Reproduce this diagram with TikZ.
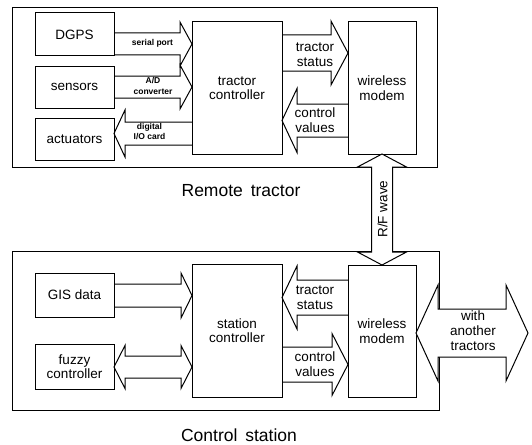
\documentclass[tikz,border=0pt]{standalone}
\usepackage{fontspec}
\setmainfont{Liberation Sans}
\usetikzlibrary{calc}

\tikzset{
  box/.style={draw, line width=1pt, inner sep=0pt, outer sep=0pt, minimum width=79pt,
    align=center, font=\fontsize{13.5}{14.5}\selectfont},
  frame/.style={draw, line width=1pt},
  fat/.style={draw, line width=1pt, line join=miter},
  lbl/.style={align=center, inner sep=0pt, font=\fontsize{13.5}{15}\selectfont},
  tinylbl/.style={align=center, inner sep=0pt, font=\fontsize{8.5}{10.5}\selectfont\bfseries},
  title/.style={inner sep=0pt, font=\fontsize{17.5}{20}\selectfont}
}

% block arrow: #1 from, #2 to, #3 half shaft, #4 half head, #5 head length
\newcommand\fatarrow[5]{%
  \coordinate (s) at (#1);
  \coordinate (t) at (#2);
  \coordinate (h) at ($(t)!#5!(s)$);
  \draw[fat] ($(s)!#3!90:(t)$) -- ($(h)!#3!90:(t)$) -- ($(h)!#4!90:(t)$) -- (t)
    -- ($(h)!#4!-90:(t)$) -- ($(h)!#3!-90:(t)$) -- ($(s)!#3!-90:(t)$);}
% same, with a head at both ends
\newcommand\fatdarrow[5]{%
  \coordinate (s) at (#1);
  \coordinate (t) at (#2);
  \coordinate (h1) at ($(s)!#5!(t)$);
  \coordinate (h2) at ($(t)!#5!(s)$);
  \draw[fat] (s) -- ($(h1)!#4!90:(t)$) -- ($(h1)!#3!90:(t)$) -- ($(h2)!#3!90:(t)$)
    -- ($(h2)!#4!90:(t)$) -- (t) -- ($(h2)!#4!-90:(t)$) -- ($(h2)!#3!-90:(t)$)
    -- ($(h1)!#3!-90:(t)$) -- ($(h1)!#4!-90:(t)$) -- cycle;}

\begin{document}
\begin{tikzpicture}[x=1pt,y=-1pt]
\useasboundingbox (0,0) rectangle (532,444);

% outer frames
\draw[frame] (12,8) rectangle (437,167);
\draw[frame] (12,251) rectangle (439,410);

% remote tractor
\node[box, minimum height=43pt] (dgps) at (74.5,34.5) {DGPS};
\node[box, minimum height=42pt] (sens) at (74.5,87) {sensors};
\node[box, minimum height=42pt] (act) at (74.5,139) {actuators};
\node[box, minimum width=90pt, minimum height=132pt] (tc) at (237,88) {tractor\\controller};
\node[box, minimum width=68pt, minimum height=132pt] (wm1) at (382,88) {wireless\\modem};

% control station
\node[box, minimum height=44pt] (gis) at (74.5,295) {GIS data};
\node[box, minimum height=45pt] (fuzzy) at (74.5,366.5) {fuzzy\\controller};
\node[box, minimum width=90pt, minimum height=133pt] (sc) at (237,330.5) {station\\controller};
\node[box, minimum width=68pt, minimum height=132pt] (wm2) at (382,331) {wireless\\modem};
\coordinate (other) at (528,333);

% block arrows
\fatarrow{dgps.east |- 0,44}{tc.west |- 0,44}{11pt}{22pt}{12pt}
\fatarrow{sens.east |- 0,87}{tc.west |- 0,87}{11pt}{22pt}{12pt}
\fatarrow{tc.west |- 0,133.5}{act.east |- 0,133.5}{11.5pt}{23.5pt}{11pt}
\fatarrow{tc.east |- 0,53}{wm1.west |- 0,53}{18pt}{32pt}{17pt}
\fatarrow{wm1.west |- 0,120.5}{tc.east |- 0,120.5}{16.5pt}{32pt}{15pt}
\fatarrow{gis.east |- 0,295.5}{sc.west |- 0,295.5}{11.5pt}{22.5pt}{11pt}
\fatdarrow{fuzzy.east |- 0,367}{sc.west |- 0,367}{11pt}{21.5pt}{11pt}
\fatarrow{wm2.west |- 0,297.5}{sc.east |- 0,297.5}{17.5pt}{31.5pt}{15pt}
\fatarrow{sc.east |- 0,364.5}{wm2.west |- 0,364.5}{17.5pt}{31pt}{16pt}
\begin{scope}[fat/.append style={fill=white}]
\fatdarrow{wm1.south}{wm2.north}{10.5pt}{24.5pt}{13pt}
\fatdarrow{wm2.east |- other}{other}{24pt}{48pt}{22pt}
\end{scope}

% arrow labels
\node[tinylbl] (serial) at (152.5,43.5) {serial port};
\node[tinylbl] (adc) at (153,86) {A/D\\converter};
\node[tinylbl] (dio) at (149.5,131.5) {digital\\I/O card};
\node[lbl] (ts1) at (315,54.5) {tractor\\status};
\node[lbl] (cv1) at (315,120.5) {control\\values};
\node[lbl] (ts2) at (315,297.5) {tractor\\status};
\node[lbl] (cv2) at (315,364) {control\\values};
\node[lbl, rotate=90] (rf) at (382.5,209) {R/F wave};
\node[lbl] (with) at (473,331) {with\\another\\tractors};

% titles
\node[title] (remote) at (241,191) {Remote\hspace{0.45em}tractor};
\node[title] (station) at (239,435) {Control\hspace{0.45em}station};
\end{tikzpicture}
\end{document}
